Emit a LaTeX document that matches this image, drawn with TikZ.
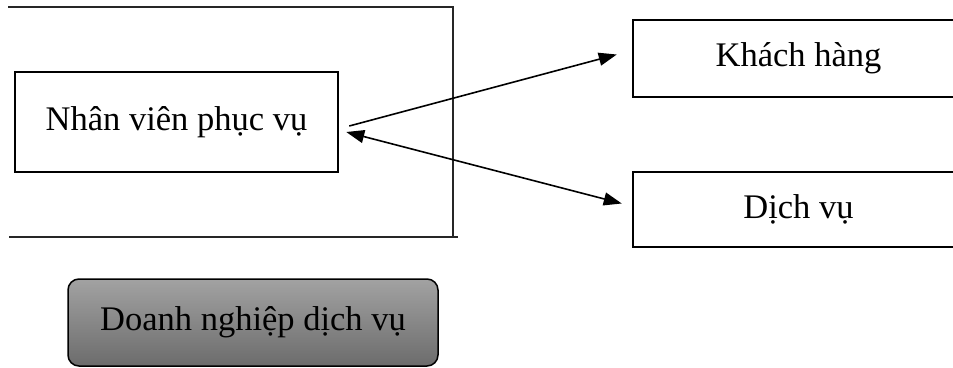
\documentclass[tikz,border=0pt]{standalone}
\usepackage{fontspec}
\setmainfont{Liberation Serif}
\usetikzlibrary{calc,arrows.meta}
\definecolor{gradtop}{HTML}{A2A2A2}
\definecolor{gradbot}{HTML}{6C6C6C}
\tikzset{
  box/.style={draw=black, line width=2.5pt, inner sep=0pt,
    font=\fontsize{34.5}{40}\selectfont},
  frameline/.style={draw=black!85, line width=1.6pt},
  tip/.tip={Triangle[length=18pt,width=13pt]},
  link/.style={line width=1.6pt, -tip},
  linkboth/.style={line width=1.6pt, tip-tip},
  firm/.style={draw=black, line width=1.5pt, rounded corners=11pt, inner sep=0pt,
    top color=gradtop, bottom color=gradbot,
    font=\fontsize{34.5}{40}\selectfont}
}
\begin{document}
\begin{tikzpicture}[x=1pt,y=-1pt]
  \useasboundingbox (0,0) rectangle (953,367);
  \clip (0,0) rectangle (953,367);
  % enclosing frame
  \draw[frameline] (8,7) -- (453,7) -- (453,237);
  \draw[frameline] (9,237) -- (458,237);
  % boxes
  \node[box, minimum width=323pt, minimum height=100pt] (nv) at (176.5,122) {Nhân viên phục vụ};
  \node[box, minimum width=331pt, minimum height=77pt] (kh) at (798.5,58.5) {Khách hàng};
  \node[box, minimum width=331pt, minimum height=75pt] (dv) at (798.5,209.5) {Dịch vụ};
  \node[firm, minimum width=370pt, minimum height=87pt] (dn) at (253,322.5) {Doanh nghiệp dịch vụ};
  % connectors
  \coordinate (a1s) at ($(nv.east)+(10,4)$);
  \coordinate (a1e) at ($(kh.west)+(-15,-4)$);
  \coordinate (a2s) at ($(nv.east)+(7,10)$);
  \coordinate (a2e) at ($(dv.west)+(-10,-6)$);
  \draw[link] (a1s) -- (a1e);
  \draw[linkboth] (a2s) -- (a2e);
\end{tikzpicture}
\end{document}
